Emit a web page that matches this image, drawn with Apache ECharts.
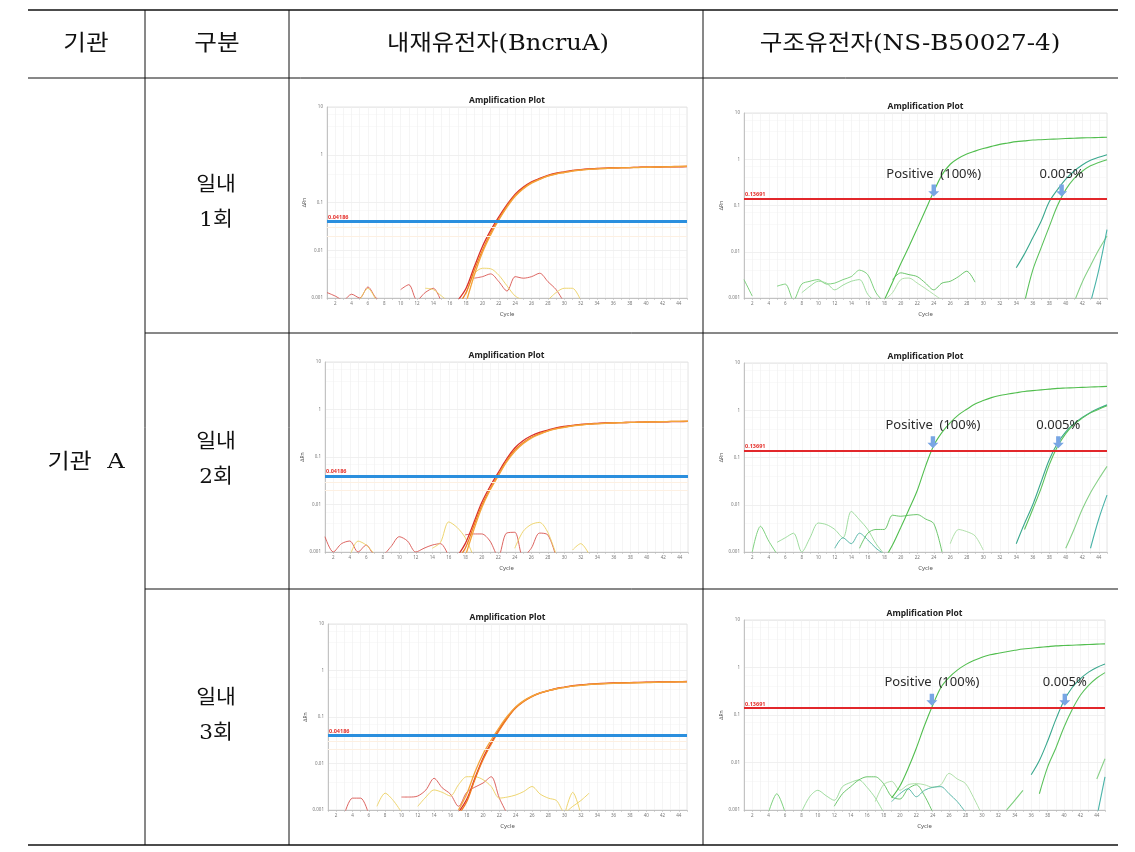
<!DOCTYPE html>
<html><head><meta charset="utf-8">
<script src="https://cdn.jsdelivr.net/npm/echarts@6/dist/echarts.min.js"></script>
<style>html,body{margin:0;padding:0;background:#fff}#c{width:1135px;height:852px}</style>
</head><body><div id="c"></div>
<script>
// ---------------- DATA ----------------
const headerLabels = ['기관', '구분', '내재유전자(BncruA)', '구조유전자(NS-B50027-4)'];
const orgLabel = '기관  A';
const runLabels = [['일내', '1회'], ['일내', '2회'], ['일내', '3회']];
const plotTitle = 'Amplification Plot';
const xAxisName = 'Cycle';
const yAxisName = 'ΔRn';
const cycleRange = [1, 45];
const deltaRnRange = [0.001, 10];
const refThresholds = [0.0437, 0.0438, 0.0447];
const refThresholdLabel = '0.04186';
const refFaintThresholds = [0.031, 0.022];
const tgtThresholds = [0.137, 0.14, 0.142];
const tgtThresholdLabel = '0.13691';
const annTexts = ['Positive  (100%)', '0.005%'];
const annCycles = [[24, 39.5], [23.9, 39.1], [23.9, 40.1]];

// Row 1 – reference gene (BncruA)
const r1RefCurves = [
  {start: 17, values: [0.0009,0.0016,0.0045,0.012,0.026,0.05,0.09,0.15,0.21,0.27,0.32,0.37,0.41,0.44,0.47,0.49,0.505,0.515,0.525,0.53,0.535,0.54,0.545,0.55,0.55,0.555,0.56,0.56,0.565]},
  {start: 17, values: [0.0007,0.0013,0.0038,0.010,0.023,0.045,0.085,0.14,0.20,0.26,0.31,0.36,0.40,0.43,0.46,0.48,0.50,0.51,0.52,0.53,0.535,0.54,0.545,0.55,0.555,0.56,0.565,0.57,0.575]},
  {start: 18, values: [0.0008,0.003,0.009,0.021,0.043,0.08,0.135,0.195,0.255,0.305,0.355,0.395,0.425,0.455,0.475,0.495,0.505,0.515,0.525,0.53,0.535,0.54,0.545,0.55,0.555,0.56,0.565,0.57]}
];
const r1RefNoise = [
  {start: 1, values: [0.0013,0.0011,0.0009,0.0012,0.001,0.0017,0.001,0.0008,null,0.0015,0.0019,0.0009,0.0013,0.0016,0.0008]},
  {start: 19, values: [0.0026,0.0028,0.0032,0.0022,0.0014,0.0028,0.0026,0.0028,0.0033,0.0022,0.0015,0.0008]},
  {start: 5, values: [0.0009,0.0016,0.0009]},
  {start: 13, values: [0.0016,0.0015,0.0011,0.0008,null,0.0012,0.0032,0.0042,0.0041,0.003,0.0018,0.0011,0.0009,null,null,0.0009,0.0013,0.0016,0.0016,0.0009]}
];
// Row 1 – construct gene (NS-B50027-4)
const r1TgtCurves = [
  {start: 18, values: [0.0009,0.0022,0.0055,0.013,0.032,0.08,0.2,0.46,0.78,1.05,1.3,1.5,1.7,1.9,2.1,2.25,2.4,2.5,2.6,2.65,2.7,2.75,2.8,2.85,2.9,2.92,2.95,3.0]},
  {start: 34, values: [0.0045,0.009,0.02,0.045,0.12,0.22,0.37,0.55,0.75,0.95,1.1,1.25]},
  {start: 35, values: [0.0008,0.004,0.012,0.035,0.1,0.22,0.38,0.55,0.72,0.85,0.98]},
  {start: 41, values: [0.0008,0.0022,0.005,0.011,0.022]},
  {start: 43, values: [0.0008,0.004,0.03]}
];
const r1TgtNoise = [
  {start: 1, values: [0.0025,0.0011,null,null,0.0018,0.002,0.0009,0.002,0.0023,0.0025,0.002,0.0021,0.0025,0.0029,0.004,0.0032,0.0013,0.0008]},
  {start: 8, values: [0.0013,0.0018,0.0023,0.0021,0.0015,0.0019,0.0023,0.0025,0.0012,0.0008]},
  {start: 19, values: [0.0025,0.0035,0.0032,0.0029,0.0021,0.0015,0.0021,0.0023,0.0029,0.0038,0.0022]},
  {start: 18, values: [0.0009,0.0013,0.0025,0.0027,0.0021,0.0016,0.0012,0.0009]}
];
// Row 2 – reference gene
const r2RefCurves = [
  {start: 17, values: [0.0008,0.0015,0.004,0.011,0.024,0.047,0.09,0.155,0.22,0.28,0.33,0.37,0.41,0.44,0.465,0.485,0.5,0.51,0.52,0.525,0.53,0.535,0.54,0.545,0.55,0.55,0.555,0.555,0.56]},
  {start: 17, values: [0.0007,0.0012,0.0034,0.0095,0.021,0.042,0.082,0.14,0.2,0.26,0.31,0.355,0.395,0.43,0.455,0.48,0.495,0.505,0.515,0.525,0.53,0.535,0.54,0.545,0.55,0.555,0.56,0.56,0.565]},
  {start: 18, values: [0.0008,0.0028,0.0085,0.02,0.04,0.078,0.13,0.19,0.25,0.3,0.35,0.39,0.42,0.45,0.47,0.49,0.5,0.51,0.52,0.53,0.535,0.54,0.545,0.55,0.555,0.56,0.565,0.57]}
];
const r2RefNoise = [
  {start: 1, values: [0.0021,0.001,0.0015,0.0017,0.001,0.0014,0.0009,0.0009,0.0013,0.0021,0.0017,0.001,0.0012,0.0014,0.0015,0.0008]},
  {start: 18, values: [0.0023,0.0024,0.0024,0.0017,0.0008,0.0025,0.0026,0.0008,0.0012,0.0025,0.0023,0.0008]},
  {start: 4, values: [0.0008,0.0017,0.0014,0.0009,null,null,null,null,null,null,0.0012,0.0016,0.0043,0.0033,0.002,0.0008]},
  {start: 24, values: [0.0012,0.0027,0.0038,0.0042,0.0026,0.0009,null,0.0011,0.0015,0.0009]}
];
// Row 2 – construct gene
const r2TgtCurves = [
  {start: 18, values: [0.0007,0.0014,0.0033,0.008,0.02,0.065,0.18,0.34,0.55,0.8,1.05,1.35,1.6,1.85,2.05,2.2,2.35,2.5,2.6,2.7,2.8,2.9,2.95,3.0,3.05,3.1,3.15,3.2]},
  {start: 34, values: [0.0015,0.004,0.01,0.03,0.09,0.2,0.35,0.52,0.7,0.9,1.1,1.3]},
  {start: 35, values: [0.003,0.008,0.022,0.07,0.17,0.32,0.5,0.68,0.88,1.05,1.25]},
  {start: 40, values: [0.0012,0.003,0.008,0.018,0.035,0.065]},
  {start: 43, values: [0.0012,0.005,0.016]}
];
const r2TgtNoise = [
  {start: 2, values: [0.001,0.0035,0.0017,0.0009]},
  {start: 5, values: [0.0016,0.002,0.0025,0.001,0.002,0.0041,0.0038,0.003,0.002,0.0072,0.0048,0.003,0.0015,0.0009]},
  {start: 15, values: [0.0012,0.0025,0.003,0.003,0.006,0.0057,0.006,0.0062,0.005,0.004,0.001]},
  {start: 26, values: [0.0015,0.003,0.0027,0.0022,0.0011]},
  {start: 12, values: [0.0012,0.002,0.0015,0.0025,0.0018,0.0012,0.0009]}
];
// Row 3 – reference gene
const r3RefCurves = [
  {start: 17, values: [0.0009,0.0017,0.0048,0.013,0.028,0.055,0.1,0.16,0.22,0.28,0.33,0.37,0.41,0.44,0.47,0.49,0.51,0.52,0.53,0.54,0.545,0.55,0.555,0.56,0.565,0.57,0.572,0.575,0.58]},
  {start: 17, values: [0.0008,0.0015,0.0045,0.012,0.026,0.052,0.095,0.155,0.215,0.275,0.325,0.365,0.405,0.435,0.465,0.485,0.505,0.515,0.525,0.535,0.54,0.545,0.55,0.555,0.56,0.565,0.57,0.572,0.575]},
  {start: 17, values: [0.001,0.0022,0.0065,0.016,0.032,0.06,0.105,0.165,0.225,0.28,0.33,0.37,0.405,0.435,0.46,0.48,0.5,0.51,0.52,0.53,0.535,0.54,0.545,0.55,0.555,0.56,0.565,0.57,0.572]}
];
const r3RefNoise = [
  {start: 3, values: [0.0008,0.0018,0.0018,0.0008]},
  {start: 10, values: [0.0019,0.0019,0.002,0.0027,0.0048,0.003,0.0022,0.0012,0.0024,0.0031,0.0038,0.0052,0.0018,0.0008]},
  {start: 30, values: [0.0008,0.0024,0.0008]},
  {start: 7, values: [0.0012,0.0023,0.0016,0.0009]},
  {start: 12, values: [0.0012,0.0019,0.0027,0.0024,0.002,0.0035,0.0052,0.0052,0.0045,0.0032,0.0018,0.0019,0.0021,0.0025,0.0032,0.0022,0.0018,0.0016,0.0009,0.0012,0.0016,0.0023]}
];
// Row 3 – construct gene
const r3TgtCurves = [
  {start: 19, values: [0.0018,0.0032,0.0075,0.02,0.06,0.16,0.38,0.62,0.88,1.15,1.4,1.65,1.85,2.0,2.15,2.3,2.45,2.55,2.65,2.75,2.85,2.9,2.95,3.0,3.05,3.1,3.15]},
  {start: 36, values: [0.0055,0.011,0.028,0.08,0.2,0.38,0.58,0.8,1.0,1.18]},
  {start: 37, values: [0.0022,0.008,0.02,0.055,0.13,0.26,0.42,0.6,0.78]},
  {start: 44, values: [0.0045,0.012]},
  {start: 44, values: [0.0007,0.005]},
  {start: 33, values: [0.001,0.0016,0.0026]}
];
const r3TgtNoise = [
  {start: 4, values: [0.0009,0.0022,0.0009]},
  {start: 8, values: [0.0009,0.0019,0.0026,0.002,0.0016,0.0031,0.0038,0.0043,0.003,0.0018,0.0009]},
  {start: 12, values: [0.0012,0.0022,0.0031,0.0043,0.005,0.005,0.0036,0.0019,0.0017,0.0028,0.0034,0.002,0.0009]},
  {start: 17, values: [0.0015,0.0034,0.004,0.0026,0.0034,0.0036,0.0034,0.003,0.0034,0.0059,0.0045,0.0036,0.0018,0.0008]},
  {start: 19, values: [0.0015,0.0022,0.0028,0.0019,0.0026,0.003,0.0031,0.0022,0.0015,0.0009]}
];

// ---------------- LAYOUT / STYLE ----------------
const chart = echarts.init(document.getElementById('c'), null, {renderer: 'canvas'});
const gridRects = [
  {l: 327, t: 107, w: 360, h: 191},
  {l: 744, t: 113, w: 363, h: 185},
  {l: 325, t: 362, w: 363, h: 190},
  {l: 744, t: 363, w: 363, h: 189},
  {l: 328, t: 624, w: 359, h: 186},
  {l: 744, t: 620, w: 361, h: 190}
];
const refCurveColors = ['#d9302c', '#ef7b22', '#f4a43a'];
const refNoiseColors = ['#d9534f', '#d9534f', '#ecd060', '#ecd060', '#ecd060'];
const tgtCurveColors = ['#52be4f', '#3aa88e', '#5cc25c', '#88d088', '#49b3a8', '#7ccf7c'];
const tgtNoiseColors = ['#72cc72', '#94d894', '#5cbf5c', '#a8dca0', '#48b0a0'];
const plotFont = "'Noto Sans', 'DejaVu Sans', sans-serif";

const plots = [
  {curves: r1RefCurves, noise: r1RefNoise, kind: 'ref', row: 0},
  {curves: r1TgtCurves, noise: r1TgtNoise, kind: 'tgt', row: 0},
  {curves: r2RefCurves, noise: r2RefNoise, kind: 'ref', row: 1},
  {curves: r2TgtCurves, noise: r2TgtNoise, kind: 'tgt', row: 1},
  {curves: r3RefCurves, noise: r3RefNoise, kind: 'ref', row: 2},
  {curves: r3TgtCurves, noise: r3TgtNoise, kind: 'tgt', row: 2}
];

const grids = [], xAxes = [], yAxes = [], series = [], graphics = [];
const toPairs = c => c.values.map((v, j) => [c.start + j, v === null ? '-' : v]);
const fmtY = v => String(Number(Number(v).toPrecision(2)));

plots.forEach((p, i) => {
  const g = gridRects[i];
  grids.push({left: g.l, top: g.t, width: g.w, height: g.h, show: true,
    borderColor: '#d4d4d4', borderWidth: 0.6, backgroundColor: '#fff'});
  xAxes.push({
    type: 'value', gridIndex: i, min: cycleRange[0], max: cycleRange[1], interval: 1,
    name: xAxisName, nameLocation: 'middle', nameGap: 13,
    nameTextStyle: {fontSize: 6, color: '#555', fontFamily: plotFont},
    axisLine: {lineStyle: {color: '#b8b8b8', width: 0.8}},
    axisTick: {show: true, length: 2, lineStyle: {color: '#bbb', width: 0.6}},
    axisLabel: {fontSize: 4.5, color: '#777', margin: 3, fontFamily: plotFont,
      formatter: v => (v % 2 === 0 ? String(v) : '')},
    splitLine: {show: true, lineStyle: {color: '#efefef', width: 0.6}}
  });
  yAxes.push({
    type: 'log', logBase: 10, gridIndex: i, min: deltaRnRange[0], max: deltaRnRange[1],
    name: yAxisName, nameLocation: 'middle', nameGap: 20, nameRotate: 90,
    nameTextStyle: {fontSize: 5, color: '#555', fontFamily: plotFont},
    axisLine: {show: true, lineStyle: {color: '#b8b8b8', width: 0.8}},
    axisTick: {show: false},
    axisLabel: {fontSize: 4.5, color: '#777', margin: 4, fontFamily: plotFont, formatter: fmtY},
    splitLine: {show: true, lineStyle: {color: '#e6e6e6', width: 0.6}},
    minorTick: {show: false, splitNumber: 3},
    minorSplitLine: {show: true, lineStyle: {color: '#f3f3f3', width: 0.5}}
  });
  const isRef = p.kind === 'ref';
  const cCols = isRef ? refCurveColors : tgtCurveColors;
  const nCols = isRef ? refNoiseColors : tgtNoiseColors;
  p.noise.forEach((c, k) => {
    series.push({type: 'line', xAxisIndex: i, yAxisIndex: i, data: toPairs(c), showSymbol: false,
      smooth: 0.3, connectNulls: false, silent: true, clip: true, z: 2,
      lineStyle: {color: nCols[k % nCols.length], width: 0.9}});
  });
  p.curves.forEach((c, k) => {
    const s = {type: 'line', xAxisIndex: i, yAxisIndex: i, data: toPairs(c), showSymbol: false,
      smooth: 0.35, silent: true, clip: true, z: 3,
      lineStyle: {color: cCols[k % cCols.length], width: isRef ? 1.3 : 1.1}};
    if (k === 0) {
      const thr = isRef ? refThresholds[p.row] : tgtThresholds[p.row];
      const mlData = [{yAxis: thr, lineStyle: {color: isRef ? '#2b8fde' : '#e2272b', width: isRef ? 3 : 2, type: 'solid'},
        label: {show: true, position: 'insideStartTop', distance: [1, 1],
          formatter: isRef ? refThresholdLabel : tgtThresholdLabel,
          color: '#e5322d', fontSize: 5.5, fontWeight: 'bold', fontFamily: plotFont}}];
      if (isRef) refFaintThresholds.forEach(f => mlData.push({yAxis: f,
        lineStyle: {color: '#fdf0e2', width: 1, type: 'solid'}, label: {show: false}}));
      s.markLine = {silent: true, symbol: ['none', 'none'], animation: false, data: mlData};
      if (!isRef) {
        const mp = [];
        annCycles[p.row].forEach((cy, a) => {
          mp.push({coord: [cy, 0.48], symbol: 'rect', symbolSize: [1, 1],
            itemStyle: {color: 'rgba(0,0,0,0)'},
            label: {show: true, position: 'inside', formatter: annTexts[a], color: '#2a2a2a',
              fontSize: 13, fontFamily: plotFont}});
          mp.push({coord: [cy, 0.21], symbol: 'path://M3,0L7,0L7,6L10,6L5,11L0,6L3,6Z',
            symbolSize: [11, 12], itemStyle: {color: '#78a6e4'}, label: {show: false}});
        });
        s.markPoint = {silent: true, animation: false, data: mp};
      }
    }
    series.push(s);
  });
  graphics.push({type: 'text', x: g.l + g.w / 2, y: g.t - 6, z: 10,
    style: {text: plotTitle, fill: '#222', font: 'bold 8.5px ' + plotFont,
      textAlign: 'center', textVerticalAlign: 'middle', align: 'center', verticalAlign: 'middle'}});
});

// table lines
const L = (x1, y1, x2, y2, w) => graphics.push({type: 'line', z: 20,
  shape: {x1, y1, x2, y2}, style: {stroke: '#111', lineWidth: w}});
L(28, 10, 1118, 10, 1.6);
L(28, 78, 1118, 78, 1);
L(145, 333, 1118, 333, 1);
L(145, 589, 1118, 589, 1);
L(28, 845, 1118, 845, 1.6);
[145, 289, 703].forEach(x => L(x, 10, x, 845, 1));

const tableFont = "'DejaVu Serif', 'Noto Sans CJK KR', serif";
const T = (text, x, y, size, sx) => graphics.push({type: 'text', x, y, z: 20, scaleX: sx, scaleY: 1,
  style: {text, fill: '#111', font: size + 'px ' + tableFont,
    textAlign: 'center', textVerticalAlign: 'middle', align: 'center', verticalAlign: 'middle'}});
const headerX = [86, 217, 498, 910];
const headerScale = [1.12, 1.12, 1.1, 1.12];
headerLabels.forEach((h, i) => T(h, headerX[i], 44, 22, headerScale[i]));
T(orgLabel, 86, 463, 21, 1.15);
const rowY = [186, 443, 699];
runLabels.forEach((r, i) => { T(r[0], 216, rowY[i], 20, 1.08); T(r[1], 216, rowY[i] + 35, 20, 1.08); });

chart.setOption({
  animation: false,
  backgroundColor: '#ffffff',
  grid: grids, xAxis: xAxes, yAxis: yAxes, series: series,
  graphic: {elements: graphics}
});
</script></body></html>
